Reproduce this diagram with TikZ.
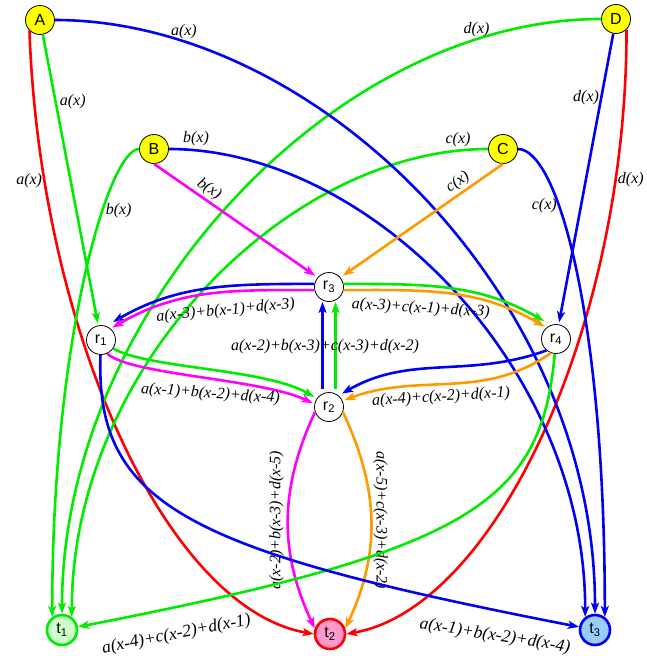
\documentclass[tikz,border=0pt]{standalone}
\usepackage{xcolor}
\usepackage{fontspec}
\setmainfont{Liberation Serif}
\setsansfont{Liberation Sans}
\usepackage{tikz}
\usetikzlibrary{arrows.meta,positioning}

\definecolor{ngreen}{RGB}{0,235,0}
\definecolor{nblue}{RGB}{0,0,245}
\definecolor{nmagenta}{RGB}{255,0,255}
\definecolor{norange}{RGB}{255,153,0}
\definecolor{nred}{RGB}{255,0,0}
\definecolor{nyellow}{RGB}{255,255,0}
\definecolor{tgreen}{RGB}{204,255,204}
\definecolor{tpink}{RGB}{255,153,204}
\definecolor{tblue}{RGB}{153,204,255}

\begin{document}
\begin{tikzpicture}[>={Stealth[length=11pt,width=8pt,inset=2.5pt]},x=1pt,y=1pt]
  \tikzstyle{src}=[circle,draw,line width=0.8pt,fill=nyellow,minimum size=29pt,inner sep=0pt,font=\sffamily\fontsize{16}{16}\selectfont]
  \tikzstyle{relay}=[circle,draw,line width=0.8pt,fill=white,minimum size=29pt,inner sep=0pt,font=\sffamily\fontsize{16}{16}\selectfont]
  \tikzstyle{sink}=[relay,line width=2.6pt,minimum size=30pt]
  \tikzstyle{lbl}=[text=black,font=\itshape\fontsize{16}{16}\selectfont,inner sep=1pt]
  \tikzstyle{biglbl}=[lbl,font=\itshape\fontsize{17.5}{17.5}\selectfont]

  \useasboundingbox (0,0) rectangle (647,-656);

  \node[src] (A) at (40,-20) {A};
  \node[src] (D) at (616,-19) {D};
  \node[src] (B) at (154,-149) {B};
  \node[src] (C) at (503,-149) {C};
  \node[relay] (r3) at (329,-287) {r\textsubscript{3}};
  \node[relay] (r1) at (101,-340) {r\textsubscript{1}};
  \node[relay] (r4) at (556,-339) {r\textsubscript{4}};
  \node[relay] (r2) at (329,-407) {r\textsubscript{2}};
  \node[sink,draw=ngreen,fill=tgreen] (t1) at (62,-630) {t\textsubscript{1}};
  \node[sink,draw=nred,fill=tpink] (t2) at (330,-634) {t\textsubscript{2}};
  \node[sink,draw=nblue,fill=tblue] (t3) at (595,-630) {t\textsubscript{3}};

  % sources to sinks and relays
  \path[->,line width=2.6pt]
    (A.-135) edge[nred,out=-88,in=170,out distance=300pt,in distance=150pt] node[lbl,pos=0.17,left] {a(x)} (t2.180)
    (D.-45) edge[nred,out=-90,in=10,out distance=300pt,in distance=150pt] node[lbl,pos=0.17,right] {d(x)} (t2.0)
    (A) edge[ngreen,shorten >=2pt] node[lbl,pos=0.23,right=2pt] {a(x)} (r1)
    (B) edge[ngreen,out=180,in=90,out distance=30pt,in distance=280pt] node[lbl,pos=0.34,right=1pt] {b(x)} (t1.127)
    (C) edge[ngreen,out=180,in=90,out distance=200pt,in distance=250pt] node[lbl,pos=0.05,above=1pt] {c(x)} (t1.53)
    (D) edge[ngreen,out=180,in=90,out distance=270pt,in distance=300pt] node[lbl,pos=0.155,above] {d(x)} (t1)
    (A) edge[nblue,out=0,in=90,out distance=260pt,in distance=320pt] node[lbl,pos=0.165,above] {a(x)} (t3)
    (B) edge[nblue,out=0,in=90,out distance=200pt,in distance=250pt] node[lbl,pos=0.045,above=2pt] {b(x)} (t3.127)
    (C) edge[nblue,out=0,in=90,out distance=40pt,in distance=300pt] node[lbl,pos=0.34,left] {c(x)} (t3.53)
    (D) edge[nblue,shorten >=2pt] node[lbl,pos=0.22,left] {d(x)} (r4)
    (B.south) edge[nmagenta,shorten >=3pt] node[lbl,pos=0.3,sloped,above=1pt] {b(x)} (r3.140)
    (C.south) edge[norange,shorten >=3pt] node[lbl,pos=0.24,sloped,above=1pt] {c(x)} (r3.40);

  % between relays
  \path[->,line width=2.6pt]
    (r3.168) edge[nblue,out=180,in=30,shorten >=8pt] (r1.70)
    (r3.192) edge[nmagenta,out=180,in=30,shorten >=2pt] node[lbl,pos=0.42,sloped,below=9pt] {a(x-3)+b(x-1)+d(x-3)} (r1.50)
    (r3.12) edge[ngreen,out=0,in=150,shorten >=8pt] (r4.110)
    (r3.-12) edge[norange,out=0,in=150,shorten >=2pt] node[lbl,pos=0.36,sloped,below=8pt] {a(x-3)+c(x-1)+d(x-3)} (r4.130)
    (r1.-35) edge[ngreen,out=-30,in=150,out distance=40pt,in distance=60pt,shorten >=3pt] (r2.145)
    (r1.-65) edge[nmagenta,out=-45,in=155,out distance=30pt,in distance=60pt,shorten >=2pt] node[lbl,pos=0.5,xshift=12pt,yshift=-17pt,rotate=-4] {a(x-1)+b(x-2)+d(x-4)} (r2.168)
    (r4.230) edge[nblue,out=200,in=30,shorten >=4pt] (r2.50)
    (r4.250) edge[norange,out=215,in=20,shorten >=2pt] node[lbl,pos=0.55,sloped,below=3pt] {a(x-4)+c(x-2)+d(x-1)} (r2.25)
    ([xshift=-6.5pt]r2.north) edge[nblue,shorten <=3pt] ([xshift=-6.5pt]r3.south)
    ([xshift=6.5pt]r2.north) edge[ngreen,shorten <=3pt] ([xshift=6.5pt]r3.south);
  \path (r2) -- node[lbl,xshift=-4pt] {a(x-2)+b(x-3)+c(x-3)+d(x-2)} (r3);

  % relays to sinks
  \path[->,line width=2.6pt]
    (r2.200) edge[nmagenta,out=-115,in=115] node[lbl,pos=0.5,rotate=90,anchor=south,inner sep=3pt] {a(x-2)+b(x-3)+d(x-5)} (t2.160)
    (r2.-20) edge[norange,out=-65,in=65] node[lbl,pos=0.5,rotate=-90,anchor=south] {a(x-5)+c(x-3)+d(x-2)} (t2.20)
    (r4) edge[ngreen,out=-95,in=11,out distance=150pt,in distance=400pt] node[biglbl,pos=0.9,xshift=-10pt,yshift=-30pt,rotate=11] {a(x-4)+c(x-2)+d(x-1)} (t1)
    (r1) edge[nblue,out=-92,in=169,out distance=150pt,in distance=400pt] node[biglbl,pos=0.93,xshift=-6pt,yshift=-25pt,rotate=-9] {a(x-1)+b(x-2)+d(x-4)} (t3);
\end{tikzpicture}
\end{document}
